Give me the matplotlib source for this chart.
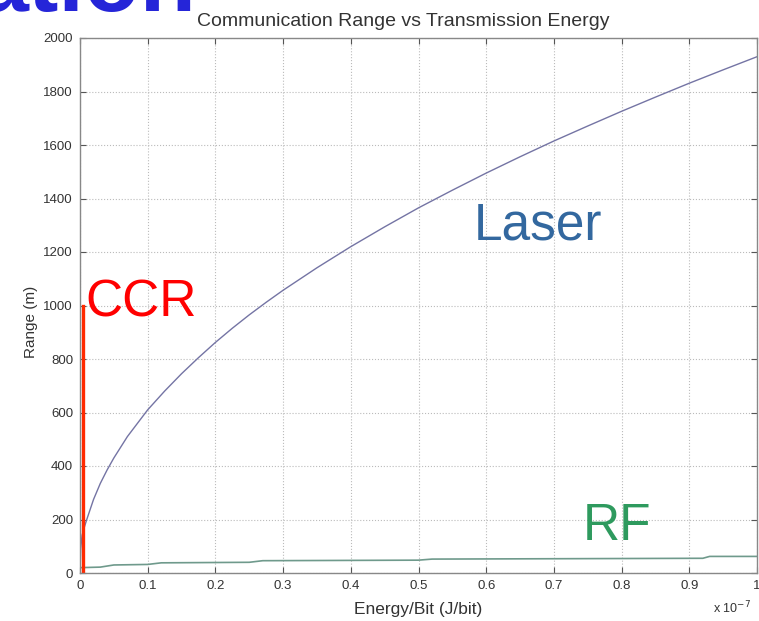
import matplotlib
matplotlib.use("Agg")
import matplotlib.pyplot as plt

# Data (x in units of 1e-7 J/bit)
laser_x = [0, 0.001, 0.003, 0.005, 0.01, 0.02, 0.03, 0.04, 0.05, 0.07, 0.1, 0.125, 0.15,
           0.175, 0.2, 0.225, 0.25, 0.275, 0.3, 0.35, 0.4, 0.45,
           0.5, 0.55, 0.6, 0.65, 0.7, 0.75, 0.8, 0.85, 0.9, 0.95, 1.0]
laser_y = [0, 90, 140, 160, 200, 275, 335, 385, 430, 510, 610, 680, 745,
           805, 862, 915, 965, 1012, 1057, 1141, 1220, 1294,
           1365, 1431, 1495, 1556, 1615, 1671, 1726, 1779, 1831, 1881, 1930]

rf_x = [0, 0.03, 0.05, 0.10, 0.12, 0.25, 0.27, 0.50, 0.52, 0.92, 0.93, 1.0]
rf_y = [20, 22, 30, 32, 38, 40, 46, 48, 52, 55, 62, 62]

ccr_x = [0.004, 0.004]
ccr_y = [0, 1000]

x_ticks = [0, 0.1, 0.2, 0.3, 0.4, 0.5, 0.6, 0.7, 0.8, 0.9, 1]
x_ticklabels = ["0", "0.1", "0.2", "0.3", "0.4", "0.5", "0.6", "0.7", "0.8", "0.9", "1"]
y_ticks = list(range(0, 2001, 200))

plt.rcParams['font.family'] = ['Liberation Sans', 'DejaVu Sans']

fig = plt.figure(figsize=(7.59, 6.21), dpi=100)
ax = fig.add_axes([80/759, 1-573/621, (757-80)/759, (573-38)/621])

ax.plot(laser_x, laser_y, color='#7474a4', lw=1.0)
ax.plot(rf_x, rf_y, color='#6f9a8c', lw=1.2)
ax.plot(ccr_x, ccr_y, color='#ff2a00', lw=2.4)

ax.set_xlim(0, 1)
ax.set_ylim(0, 2000)
ax.set_xticks(x_ticks)
ax.set_xticklabels(x_ticklabels)
ax.set_yticks(y_ticks)
ax.tick_params(direction='in', length=4, colors='#555555', labelcolor='#333333',
               labelsize=9.5, top=True, right=True, pad=5)
ax.grid(True, linestyle=':', color='#bbbbbb', lw=0.8)
for s in ax.spines.values():
    s.set_color('#888888')
    s.set_linewidth(1.0)

ax.set_title("Communication Range vs Transmission Energy", fontsize=14,
             color='#333333', pad=9, x=0.477)
ax.set_xlabel("Energy/Bit (J/bit)", fontsize=12.5, color='#333333', labelpad=7)
ax.set_ylabel("Range (m)", fontsize=11, color='#333333')
ax.yaxis.set_label_coords(-0.062, 0.47)

fig.text(713/759, 1-613/621, r"x 10$^{-7}$", fontsize=9, color='#333333',
         ha='left', va='baseline')

ax.text(0.0075, 1011, "CCR", color='#ff0000', fontsize=37, ha='left', va='center')
ax.text(0.677, 1296, "Laser", color='#33689f', fontsize=37, ha='center', va='center')
ax.text(0.793, 172, "RF", color='#2e9a5e', fontsize=37, ha='center', va='center')

fig.text(-0.03, 1-11/621, "ation", color='#2525d8', fontsize=66, fontweight='bold',
         ha='left', va='baseline')

fig.savefig("out.png", dpi=100)
